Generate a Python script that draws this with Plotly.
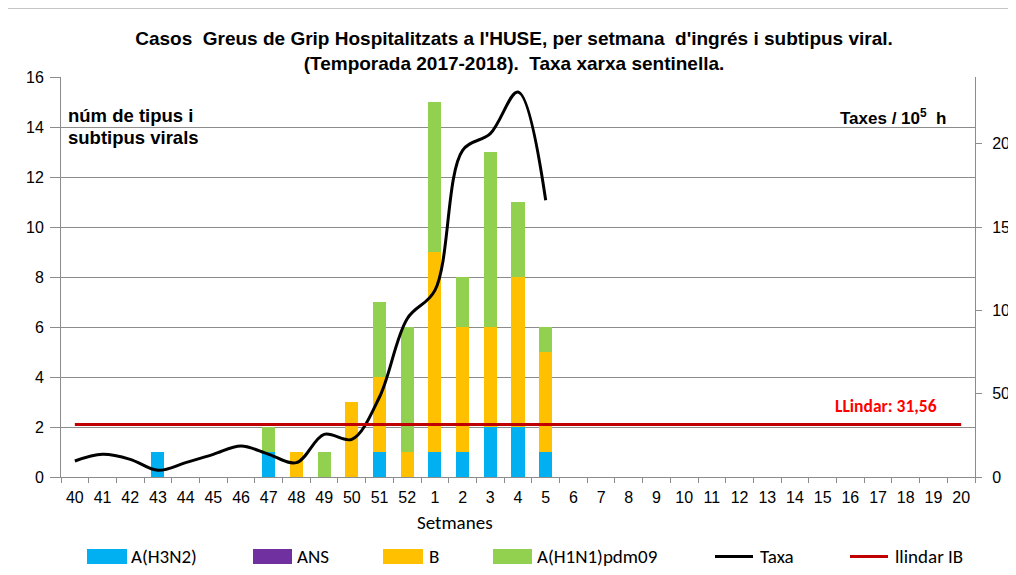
import plotly.graph_objects as go

# ---------------- data ----------------
weeks = [str(w) for w in range(40, 53)] + [str(w) for w in range(1, 21)]

h3n2 = [0, 0, 0, 1, 0, 0, 0, 1, 0, 0, 0, 1, 0, 1, 1, 2, 2, 1] + [0] * 15
ans = [0] * 33
b_vals = [0, 0, 0, 0, 0, 0, 0, 0, 1, 0, 3, 3, 1, 8, 5, 4, 6, 4] + [0] * 15
h1n1 = [0, 0, 0, 0, 0, 0, 0, 1, 0, 1, 0, 3, 5, 6, 2, 7, 3, 1] + [0] * 15

taxa = [9.6, 13.6, 10.6, 4.0, 8.6, 13.6, 18.6, 13.6, 8.6, 25.6, 22.6,
        48, 95, 112, 196, 206, 231, 166] + [None] * 15
llindar_value = 31.56
llindar = [llindar_value] * 33

left_ticks = [0, 2, 4, 6, 8, 10, 12, 14, 16]
right_ticks = [0, 50, 100, 150, 200]

title_text = ("Casos  Greus de Grip Hospitalitzats a l'HUSE, per setmana  d'ingrés i subtipus viral."
              "<br>(Temporada 2017-2018).  Taxa xarxa sentinella.")

# ---------------- geometry helpers (reference pixels -> paper) ----------------
OFF = 8  # page body margin
W, H = 1016 - OFF, 575 - OFF
PLOT_L, PLOT_R, PLOT_T, PLOT_B = 61, 975, 77, 477  # reference pixels
ML, MR = PLOT_L - OFF, (1016 - OFF) - (PLOT_R - OFF)
MT, MB = PLOT_T - OFF, (575 - OFF) - (PLOT_B - OFF)
PW, PH = PLOT_R - PLOT_L, PLOT_B - PLOT_T


def xp(px):
    return (px - PLOT_L) / PW


def yp(py):
    return (PLOT_B - py) / PH


GRAY = "#8c8c8c"
BLUE, PURPLE, ORANGE, GREEN = "#00B0F0", "#7030A0", "#FFC000", "#92D050"
DARKRED = "#C00000"
ARIAL = "Liberation Sans, Arial, sans-serif"
CALIBRI = "Carlito, Lato, sans-serif"

fig = go.Figure()
for name, vals, col in [("A(H3N2)", h3n2, BLUE), ("ANS", ans, PURPLE),
                        ("B", b_vals, ORANGE), ("A(H1N1)pdm09", h1n1, GREEN)]:
    fig.add_trace(go.Bar(x=weeks, y=vals, name=name, marker_color=col,
                         marker_line_width=0, showlegend=False))

fig.add_trace(go.Scatter(x=weeks, y=taxa, name="Taxa", yaxis="y2", mode="lines",
                         line=dict(color="black", width=3, shape="spline", smoothing=1),
                         showlegend=False, connectgaps=False))
fig.add_trace(go.Scatter(x=weeks, y=llindar, name="llindar IB", yaxis="y2", mode="lines",
                         line=dict(color=DARKRED, width=3), showlegend=False))

shapes = []
annotations = []

# outer chart border
shapes.append(dict(type="rect", xref="paper", yref="paper",
                   x0=xp(7), x1=xp(1060), y0=yp(620), y1=yp(8),
                   line=dict(color=GRAY, width=1), fillcolor="rgba(0,0,0,0)", layer="below"))

# custom legend
legend_items = [("rect", BLUE, 87, 127, "A(H3N2)", 129),
                ("rect", PURPLE, 253, 292, "ANS", 295),
                ("rect", ORANGE, 383, 423, "B", 427),
                ("rect", GREEN, 493, 532, "A(H1N1)pdm09", 535),
                ("line", "black", 715, 753, "Taxa", 758),
                ("line", DARKRED, 850, 888, "llindar IB", 893)]
LEG_Y = 556.5
for kind, col, x0, x1, label, tx in legend_items:
    if kind == "rect":
        shapes.append(dict(type="rect", xref="paper", yref="paper",
                           x0=xp(x0), x1=xp(x1), y0=yp(564), y1=yp(549),
                           fillcolor=col, line=dict(width=0)))
    else:
        shapes.append(dict(type="line", xref="paper", yref="paper",
                           x0=xp(x0), x1=xp(x1), y0=yp(LEG_Y), y1=yp(LEG_Y),
                           line=dict(color=col, width=3)))
    annotations.append(dict(text=label, xref="paper", yref="paper", x=xp(tx), y=yp(LEG_Y),
                            xanchor="left", yanchor="middle", showarrow=False,
                            font=dict(family=CALIBRI, size=19, color="black")))

annotations += [
    dict(text="<b>núm de tipus i</b>", xref="paper", yref="paper",
         x=xp(66), y=yp(115.5), xanchor="left", yanchor="middle", showarrow=False,
         font=dict(family=ARIAL, size=18.5, color="black")),
    dict(text="<b>subtipus virals</b>", xref="paper", yref="paper",
         x=xp(66), y=yp(137.5), xanchor="left", yanchor="middle", showarrow=False,
         font=dict(family=ARIAL, size=18.5, color="black")),
    dict(text="<b>Taxes / 10<sup>5</sup>  h</b>", xref="paper", yref="paper",
         x=xp(949), y=yp(117), xanchor="right", yanchor="middle", showarrow=False,
         font=dict(family=ARIAL, size=17, color="black")),
    dict(text="<b>LLindar: 31,56</b>", xref="paper", yref="paper",
         x=xp(939), y=yp(406), xanchor="right", yanchor="middle", showarrow=False,
         font=dict(family=CALIBRI, size=17.5, color="#FF0000")),
    dict(text="Setmanes", xref="paper", yref="paper",
         x=xp(455), y=yp(522), xanchor="center", yanchor="middle", showarrow=False,
         font=dict(family=CALIBRI, size=19, color="black")),
]

fig.update_layout(
    width=W, height=H,
    margin=dict(l=ML, r=MR, t=MT, b=MB, autoexpand=False),
    paper_bgcolor="white", plot_bgcolor="white",
    barmode="stack", bargap=0.53,
    title=dict(text="<b>" + title_text + "</b>", x=xp(514), xref="paper", xanchor="center",
               y=1 - (45 - OFF) / H, yref="container", yanchor="middle",
               font=dict(family=ARIAL, size=19, color="black")),
    xaxis=dict(type="category", categoryorder="array", categoryarray=weeks,
               tickson="boundaries", ticks="outside", ticklen=5, tickcolor=GRAY,
               showline=True, linecolor=GRAY, linewidth=1, showgrid=False,
               tickfont=dict(family=ARIAL, size=16, color="black"), tickangle=0,
               ticklabelstandoff=6),
    yaxis=dict(range=[0, 16], tickvals=left_ticks, showgrid=True, gridcolor=GRAY, gridwidth=1.3,
               showline=True, linecolor=GRAY, linewidth=1, ticks="outside", ticklen=10,
               tickcolor=GRAY, zeroline=False,
               tickfont=dict(family=ARIAL, size=16, color="black"), ticklabelstandoff=3),
    yaxis2=dict(range=[0, 240], tickvals=right_ticks, overlaying="y", side="right",
                showgrid=False, showline=True, linecolor=GRAY, linewidth=1,
                ticks="outside", ticklen=6, tickcolor=GRAY, zeroline=False,
                tickfont=dict(family=ARIAL, size=16, color="black"), ticklabelstandoff=7),
    shapes=shapes, annotations=annotations, showlegend=False,
)

fig.write_html("out.html")
